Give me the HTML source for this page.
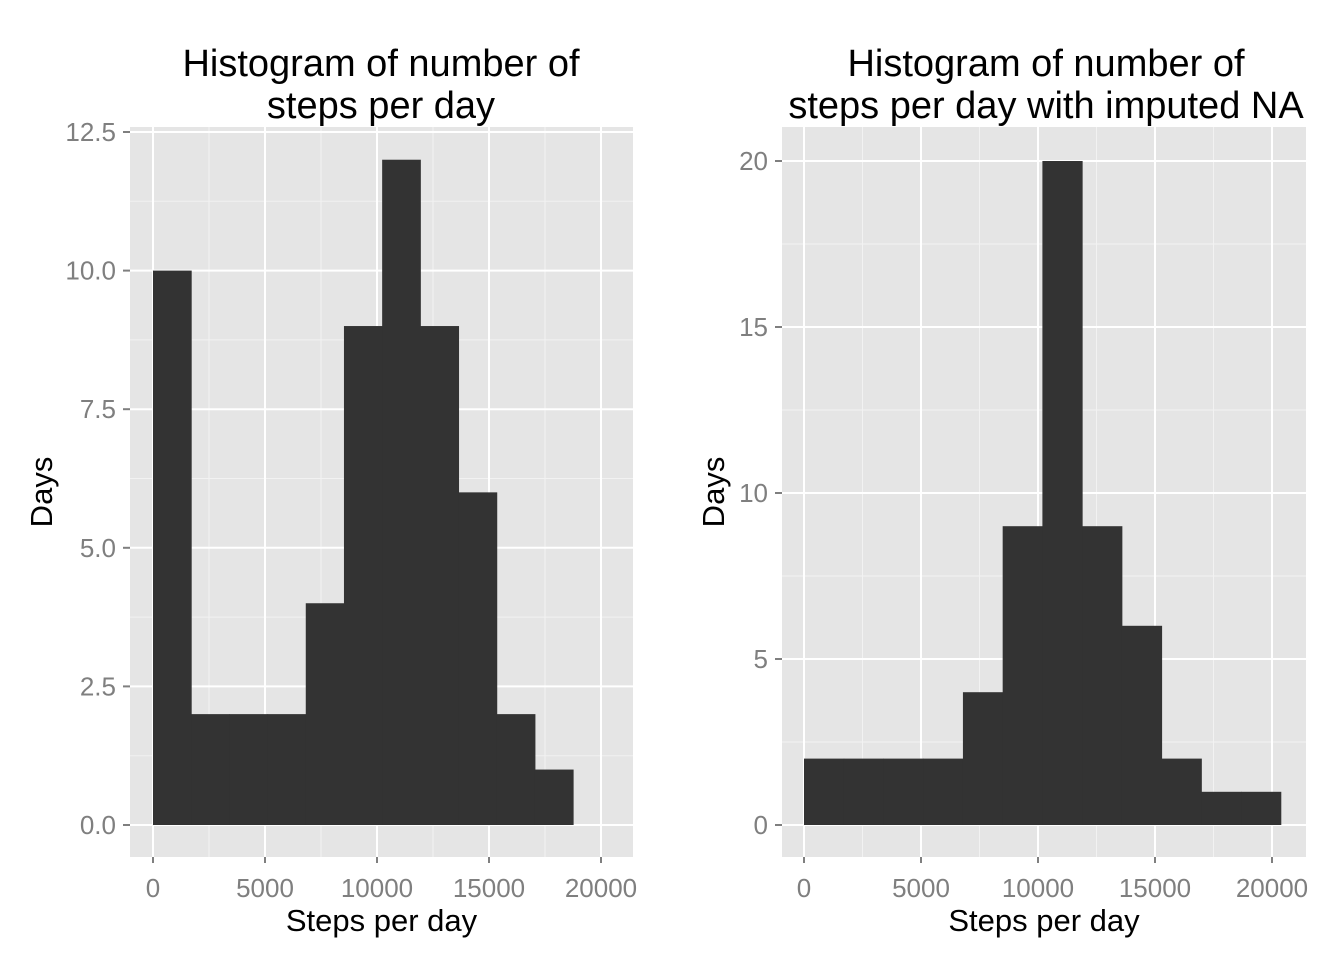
<!DOCTYPE html>
<html><head><meta charset="utf-8"><style>
body{margin:0;background:#fff;width:1344px;height:960px;overflow:hidden}
svg{font-family:"Liberation Sans",Arial,sans-serif}
</style></head><body>
<svg id="c" width="1344" height="960"></svg>
<script>
const leftCounts=[10,2,2,2,4,9,12,9,6,2,1];
const leftBinStart=0, leftBinWidth=1705;
const leftYTicks=[0,2.5,5,7.5,10,12.5];
const leftYLabels=["0.0","2.5","5.0","7.5","10.0","12.5"];
const rightCounts=[2,2,2,2,4,9,20,9,6,2,1,1];
const rightBinStart=0, rightBinWidth=1698;
const rightYTicks=[0,5,10,15,20];
const rightYLabels=["0","5","10","15","20"];
const xTicks=[0,5000,10000,15000,20000];
const xLabels=["0","5000","10000","15000","20000"];

const NS="http://www.w3.org/2000/svg";
const svg=document.getElementById('c');
function mk(t,a,p){const e=document.createElementNS(NS,t);for(const k in a)e.setAttribute(k,a[k]);(p||svg).appendChild(e);return e;}

function panel(o){
  const g=mk('g',{});
  
  
  const bg=mk('rect',{x:o.L,y:o.T,width:o.R-o.L,height:o.B-o.T,fill:'#e5e5e5'},g);
  
  
  const xs=v=>o.x0+(v-0)*(o.x20-o.x0)/20000;
  const ys=v=>o.y0-(v)*(o.y0-o.ytop)/o.ymaxTick;
  for(let i=0;i<xTicks.length;i++){const v=xTicks[i]+2500;if(xs(v)<o.R)mk('line',{x1:xs(v),x2:xs(v),y1:o.T,y2:o.B,stroke:'#f2f2f2','stroke-width':1},g);}
  const st=o.yt[1]-o.yt[0];
  for(let i=0;i<o.yt.length;i++){const v=o.yt[i]+st/2;if(ys(v)>o.T)mk('line',{x1:o.L,x2:o.R,y1:ys(v),y2:ys(v),stroke:'#f2f2f2','stroke-width':1},g);}
  xTicks.forEach(v=>{mk('line',{x1:xs(v),x2:xs(v),y1:o.T,y2:o.B,stroke:'#fff','stroke-width':2},g);});
  o.yt.forEach(v=>{mk('line',{x1:o.L,x2:o.R,y1:ys(v),y2:ys(v),stroke:'#fff','stroke-width':2},g);});
  o.counts.forEach((c,i)=>{
    const a=xs(o.bs+i*o.bw), b=xs(o.bs+(i+1)*o.bw);
    const r=mk('rect',{x:a,y:ys(c),width:b-a+0.5,height:ys(0)-ys(c),fill:'#333333'},g);
    
    
  });
  xTicks.forEach((v,i)=>{
    mk('line',{x1:xs(v),x2:xs(v),y1:o.B,y2:o.B+6,stroke:'#7f7f7f','stroke-width':2},g);
    const t=mk('text',{x:xs(v),y:o.B+40,'text-anchor':'middle','font-size':26,fill:'#7f7f7f'},g);t.textContent=xLabels[i];
    
    
  });
  o.yt.forEach((v,i)=>{
    mk('line',{x1:o.L-7,x2:o.L,y1:ys(v),y2:ys(v),stroke:'#7f7f7f','stroke-width':2},g);
    const t=mk('text',{x:o.L-14,y:ys(v)+9,'text-anchor':'end','font-size':26,fill:'#7f7f7f'},g);t.textContent=o.yl[i];
    
    
  });
  const xt=mk('text',{x:(o.L+o.R)/2,y:931,'text-anchor':'middle','font-size':31,fill:'#000'},g);xt.textContent='Steps per day';
  
  
  const yt=mk('text',{x:0,y:0,'text-anchor':'middle','font-size':31,fill:'#000',transform:`translate(${o.yx},${(o.T+o.B)/2}) rotate(-90)`},g);yt.textContent='Days';
  
  
  o.title.forEach((s,i)=>{
    const t=mk('text',{x:o.tx,y:76+i*42,'text-anchor':'middle','font-size':38,fill:'#000'},g);t.textContent=s;
    
    
  });
}
panel({name:'left-panel',L:130,R:633,T:127,B:857,x0:153,x20:601,y0:825,ytop:132,ymaxTick:12.5,yt:leftYTicks,yl:leftYLabels,counts:leftCounts,bs:leftBinStart,bw:leftBinWidth,yx:52,tx:381,title:['Histogram of number of','steps per day']});
panel({name:'right-panel',L:782,R:1306,T:127,B:857,x0:804,x20:1272,y0:825,ytop:161,ymaxTick:20,yt:rightYTicks,yl:rightYLabels,counts:rightCounts,bs:rightBinStart,bw:rightBinWidth,yx:724,tx:1046,title:['Histogram of number of','steps per day with imputed NA']});
</script>
</body></html>
